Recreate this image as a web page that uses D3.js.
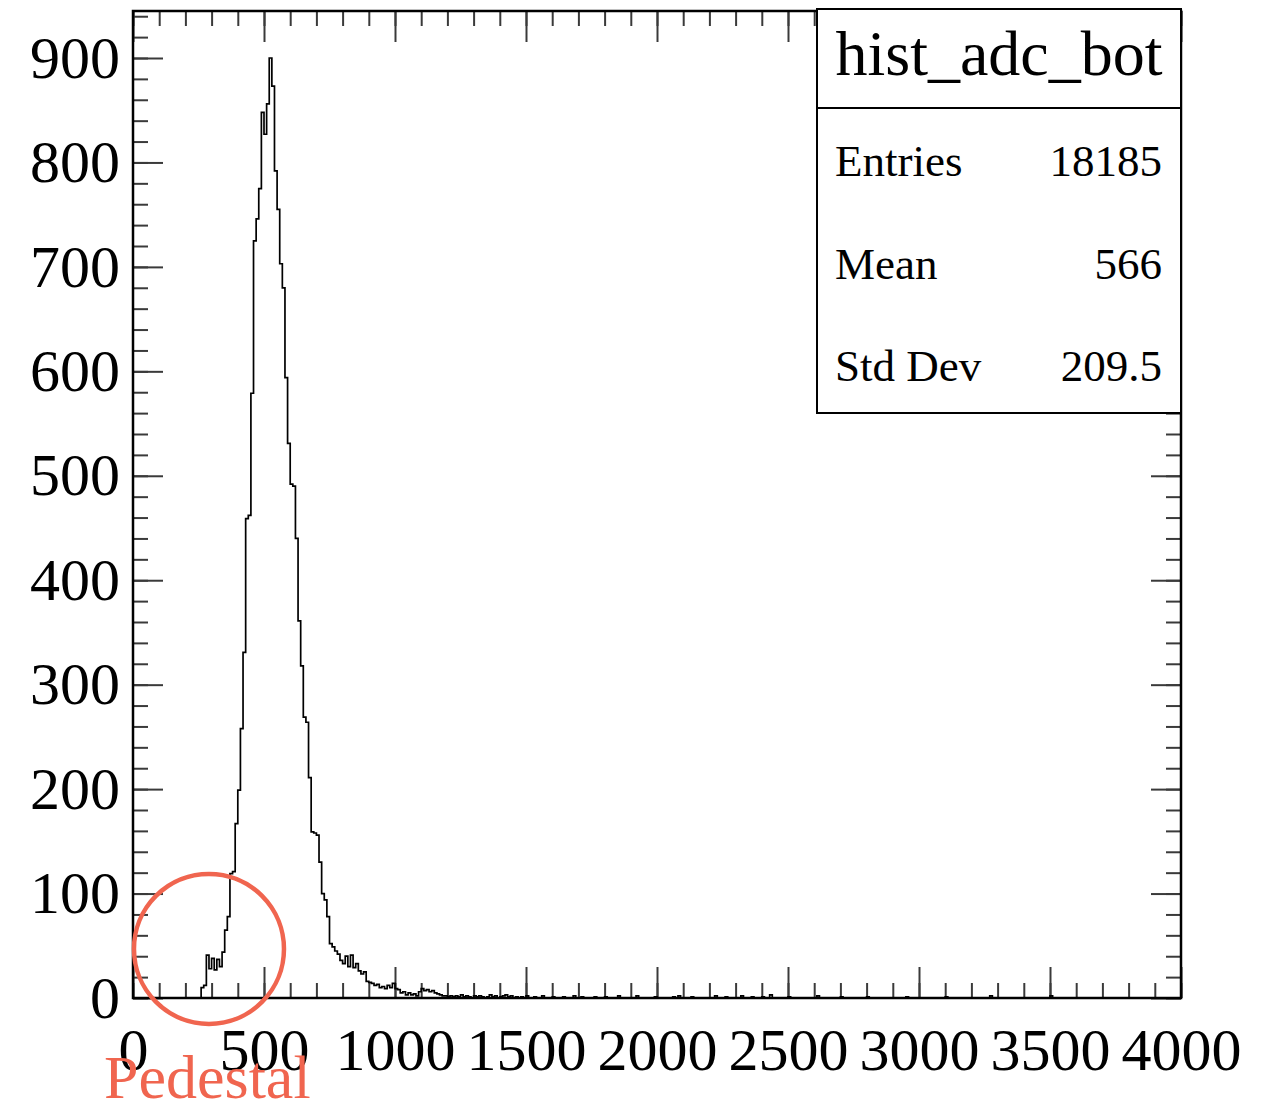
<!DOCTYPE html>
<html>
<head>
<meta charset="utf-8">
<script src="https://cdn.jsdelivr.net/npm/d3@7"></script>
<style>
body { margin: 0; background: #fff; }
svg text { font-family: 'Liberation Serif', 'Times New Roman', serif; }
</style>
</head>
<body>
<div id="chart"></div>
<script>
// histogram: 400 bins of 10 ADC counts, 0..4000
const binWidth = 10;
const nBins = 400;
// counts of bins starting at ADC 260 (main peak + near tail)
const peakStartAdc = 260;
const peakCounts = [
  10, 12, 41, 28, 38, 27, 37, 30, 44, 65,
  78, 119, 121, 167, 199, 258, 331, 459, 462, 579,
  725, 746, 775, 848, 827, 856, 900, 873, 792, 755,
  703, 680, 594, 531, 492, 490, 440, 361, 318, 269,
  264, 211, 159, 158, 156, 130, 100, 94, 78, 52,
  49, 45, 42, 36, 33, 40, 30, 41, 29, 33,
  26, 23, 25, 16, 15, 14, 12, 13, 10, 11,
  9, 12, 10, 14, 9, 8, 5, 6, 3, 5,
  3, 4, 2, 6, 9, 7, 8, 6, 7, 5,
  4, 3, 2, 2, 1, 2, 1, 2, 1, 3,
  1, 2, 1, 0, 2, 1, 2, 1, 0, 1,
  3, 1, 2, 0, 1, 2, 3, 1, 2, 0,
  1, 0, 1, 0, 2
];
// sparse far tail: bin lower edge (ADC) and count
const tailAdc = [1530, 1560, 1600, 1640, 1680, 1710, 1760, 1800, 1850, 1920,
  1990, 2060, 2080, 2130, 2220, 2260, 2320, 2360, 2400, 2430,
  2500, 2610, 2700, 2800, 2950, 3100, 3270, 3500];
const tailCounts = [1, 2, 1, 1, 2, 1, 1, 1, 2, 2,
  1, 1, 2, 1, 2, 1, 2, 1, 1, 3,
  1, 2, 1, 1, 1, 1, 2, 2];

const xTickLabels = [0, 500, 1000, 1500, 2000, 2500, 3000, 3500, 4000];
const yTickLabels = [0, 100, 200, 300, 400, 500, 600, 700, 800, 900];

const statsTitle = 'hist_adc_bot';
const statsNames = ['Entries', 'Mean', 'Std Dev'];
const statsValues = ['18185', '566', '209.5'];

const annotationText = 'Pedestal';
const pedestalAdc = 290;
const pedestalCount = 47;

const totalWidth = 1261, totalHeight = 1108;
const margin = { top: 11, right: 80, bottom: 110, left: 133 };
const width = totalWidth - margin.left - margin.right;
const height = totalHeight - margin.top - margin.bottom;
const red = '#f0654f';

const counts = new Array(nBins).fill(0);
peakCounts.forEach((c, i) => { counts[peakStartAdc / binWidth + i] = c; });
tailAdc.forEach((a, i) => { counts[a / binWidth] = tailCounts[i]; });
const points = counts.map((c, i) => [i * binWidth, c]);
points.push([nBins * binWidth, counts[nBins - 1]]);

const x = d3.scaleLinear().domain([0, 4000]).range([0, width]);
const y = d3.scaleLinear().domain([0, 945]).range([height, 0]);

const svg = d3.select('#chart').append('svg')
  .attr('width', totalWidth)
  .attr('height', totalHeight);

const g = svg.append('g')
  .attr('transform', 'translate(' + margin.left + ',' + margin.top + ')');

function styleAxis(sel) {
  sel.select('.domain').remove();
  sel.selectAll('.tick line').attr('stroke', '#3a3a3a').attr('stroke-width', 2);
  sel.selectAll('.tick text').attr('font-size', 60).attr('fill', '#000')
    .style('font-family', "'Liberation Serif', serif");
}

const xMinor = d3.range(0, 4001, 100);
const yMinor = d3.range(0, 941, 20);

// bottom
g.append('g').attr('transform', 'translate(0,' + height + ')')
  .call(d3.axisBottom(x).tickValues(xMinor).tickSizeInner(-15).tickSizeOuter(0).tickFormat(''))
  .call(styleAxis);
g.append('g').attr('transform', 'translate(0,' + height + ')')
  .call(d3.axisBottom(x).tickValues(xTickLabels).tickSizeInner(-31).tickSizeOuter(0)
    .tickPadding(29).tickFormat(d3.format('d')))
  .call(styleAxis);
// top
g.append('g')
  .call(d3.axisTop(x).tickValues(xMinor).tickSizeInner(-15).tickSizeOuter(0).tickFormat(''))
  .call(styleAxis);
g.append('g')
  .call(d3.axisTop(x).tickValues(xTickLabels).tickSizeInner(-31).tickSizeOuter(0).tickFormat(''))
  .call(styleAxis);
// left
g.append('g')
  .call(d3.axisLeft(y).tickValues(yMinor).tickSizeInner(-15).tickSizeOuter(0).tickFormat(''))
  .call(styleAxis);
g.append('g')
  .call(d3.axisLeft(y).tickValues(yTickLabels).tickSizeInner(-30).tickSizeOuter(0)
    .tickPadding(13).tickFormat(d3.format('d')))
  .call(styleAxis);
// right
g.append('g').attr('transform', 'translate(' + width + ',0)')
  .call(d3.axisRight(y).tickValues(yMinor).tickSizeInner(-15).tickSizeOuter(0).tickFormat(''))
  .call(styleAxis);
g.append('g').attr('transform', 'translate(' + width + ',0)')
  .call(d3.axisRight(y).tickValues(yTickLabels).tickSizeInner(-30).tickSizeOuter(0).tickFormat(''))
  .call(styleAxis);

// histogram outline
const line = d3.line()
  .x(d => x(d[0]))
  .y(d => y(d[1]))
  .curve(d3.curveStepAfter);

g.append('path')
  .datum(points)
  .attr('fill', 'none')
  .attr('stroke', '#000')
  .attr('stroke-width', 1.7)
  .attr('d', line);

// frame
g.append('rect')
  .attr('width', width)
  .attr('height', height)
  .attr('fill', 'none')
  .attr('stroke', '#000')
  .attr('stroke-width', 2.5);

// stats box
const box = svg.append('g').attr('transform', 'translate(817,9)');
const boxW = margin.left + width - 817, boxH = 404;
box.append('rect')
  .attr('width', boxW).attr('height', boxH)
  .attr('fill', '#fff').attr('stroke', '#000').attr('stroke-width', 2);
box.append('line')
  .attr('x1', 0).attr('x2', boxW).attr('y1', 99).attr('y2', 99)
  .attr('stroke', '#000').attr('stroke-width', 2);
box.append('text')
  .attr('x', boxW / 2).attr('y', 66)
  .attr('text-anchor', 'middle')
  .attr('font-size', 64)
  .text(statsTitle);
statsNames.forEach((name, i) => {
  const by = 167 + i * 102.5;
  box.append('text').attr('x', 18).attr('y', by).attr('font-size', 45).text(name);
  box.append('text').attr('x', boxW - 19).attr('y', by).attr('font-size', 45)
    .attr('text-anchor', 'end').text(statsValues[i]);
});

// pedestal annotation
svg.append('circle')
  .attr('cx', margin.left + x(pedestalAdc))
  .attr('cy', margin.top + y(pedestalCount))
  .attr('r', 75)
  .attr('fill', 'none')
  .attr('stroke', red)
  .attr('stroke-width', 4.5);
svg.append('text')
  .attr('x', 104).attr('y', 1098)
  .attr('font-size', 62)
  .attr('fill', red)
  .text(annotationText);
</script>
</body>
</html>
